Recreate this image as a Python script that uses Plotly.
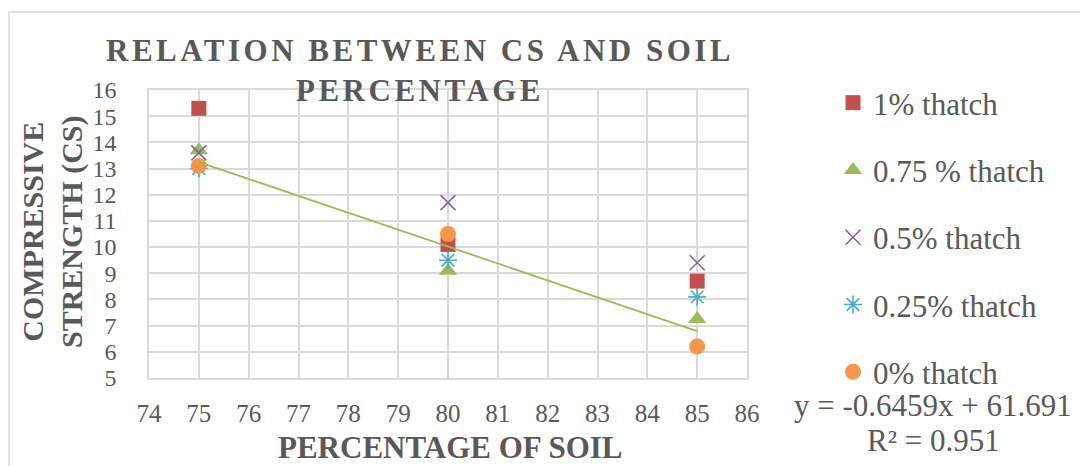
import plotly.graph_objects as go

# ---- data ----
soil_pct = [75, 80, 85]
series_names = ["1% thatch", "0.75 % thatch", "0.5% thatch", "0.25% thatch", "0% thatch"]
cs_1 = [15.3, 10.1, 8.7]
cs_075 = [13.7, 9.1, 7.25]
cs_05 = [13.6, 11.7, 9.4]
cs_025 = [13.0, 9.5, 8.1]
cs_0 = [13.1, 10.5, 6.2]
trend_slope = -0.6459
trend_intercept = 61.691
trend_r2 = 0.951
x_ticks = list(range(74, 87))
y_ticks = list(range(5, 17))

TXT = "#595959"
GRID = "#D9D9D9"
FONT = "Liberation Serif"

styles = [
    dict(symbol="square", color="#C0504D", size=15, line=dict(width=0)),
    dict(symbol="triangle-up", color="#9BBB59", size=16, line=dict(width=0)),
    dict(symbol="x-thin-open", color="#8064A2", size=15, line=dict(width=1.6, color="#8064A2")),
    dict(symbol="asterisk-open", color="#4BACC6", size=15, line=dict(width=1.6, color="#4BACC6")),
    dict(symbol="circle", color="#F79646", size=16, line=dict(width=0)),
]
values = [cs_1, cs_075, cs_05, cs_025, cs_0]

fig = go.Figure()
for i, (name, vals, st) in enumerate(zip(series_names, values, styles)):
    fig.add_trace(go.Scatter(
        x=soil_pct, y=vals, mode="markers", name=name,
        legendgroup=f"g{i}", marker=st,
    ))

# linear trendline (of the 0.75 % series) from the displayed equation
tx = [soil_pct[0], soil_pct[-1]]
ty = [trend_slope * v + trend_intercept for v in tx]
fig.add_trace(go.Scatter(x=tx, y=ty, mode="lines", showlegend=False,
                         line=dict(color="#9BBB59", width=1.8), hoverinfo="skip"))

OFF = 8  # the page body offsets the figure by 8px
L, R, T, B = 149 - OFF, 747 - OFF, 90 - OFF, 378 - OFF
W, H = 1088 - OFF, 466 - OFF
pw, ph = R - L, B - T

def px(xp):
    return (xp - OFF - L) / pw

def py(yp):
    return (B - (yp - OFF)) / ph

fig.update_layout(
    width=W, height=H,
    margin=dict(l=L, r=W - R, t=T, b=H - B, pad=0),
    paper_bgcolor="white", plot_bgcolor="white",
    font=dict(family=FONT, color=TXT),
    showlegend=True,
    legend=dict(
        x=px(833), y=py(76), xanchor="left", yanchor="top",
        font=dict(family=FONT, size=31, color=TXT),
        tracegroupgap=24, bgcolor="rgba(0,0,0,0)", maxheight=440,
    ),
    xaxis=dict(
        range=[74, 86], tickvals=x_ticks, ticktext=[str(v) for v in x_ticks],
        showgrid=True, gridcolor=GRID, gridwidth=1.5, zeroline=False,
        showline=True, linecolor=GRID, linewidth=1.5, mirror=True,
        ticks="", ticklabelstandoff=12,
        tickfont=dict(family=FONT, size=25, color=TXT),
    ),
    yaxis=dict(
        range=[5, 16], tickvals=y_ticks, ticktext=[str(v) for v in y_ticks],
        showgrid=True, gridcolor=GRID, gridwidth=1.5, zeroline=False,
        showline=True, linecolor=GRID, linewidth=1.5, mirror=True,
        ticks="", ticklabelstandoff=26,
        tickfont=dict(family=FONT, size=24, color=TXT),
    ),
)

fig.add_annotation(
    text='<span style="letter-spacing:3.5px">RELATION BETWEEN CS AND SOIL</span><br>'
         '<span style="letter-spacing:3.5px">PERCENTAGE</span>',
    xref="paper", yref="paper", x=px(420), y=py(70),
    xanchor="center", yanchor="middle", showarrow=False,
    font=dict(family=FONT, size=31, color=TXT, weight="bold"),
)
fig.add_annotation(
    text="COMPRESSIVE<br>STRENGTH (CS)",
    xref="paper", yref="paper", x=px(52), y=py(232),
    xanchor="center", yanchor="middle", showarrow=False, textangle=-90,
    font=dict(family=FONT, size=30, color=TXT, weight="bold"),
)
fig.add_annotation(
    text="PERCENTAGE OF SOIL",
    xref="paper", yref="paper", x=px(450), y=py(447),
    xanchor="center", yanchor="middle", showarrow=False,
    font=dict(family=FONT, size=31, color=TXT, weight="bold"),
)
fig.add_annotation(
    text=f"y = {trend_slope}x + {trend_intercept}",
    xref="paper", yref="paper", x=px(933), y=py(405),
    xanchor="center", yanchor="middle", showarrow=False,
    font=dict(family=FONT, size=31, color=TXT),
)
fig.add_annotation(
    text=f"R² = {trend_r2}",
    xref="paper", yref="paper", x=px(933), y=py(440),
    xanchor="center", yanchor="middle", showarrow=False,
    font=dict(family=FONT, size=31, color=TXT),
)

# outer chart frame
fig.add_shape(type="rect", xref="paper", yref="paper",
              x0=px(9), y0=py(490), x1=px(1110), y1=py(12),
              line=dict(color=GRID, width=1.5), fillcolor="rgba(0,0,0,0)", layer="below")

fig.write_html("out.html")
